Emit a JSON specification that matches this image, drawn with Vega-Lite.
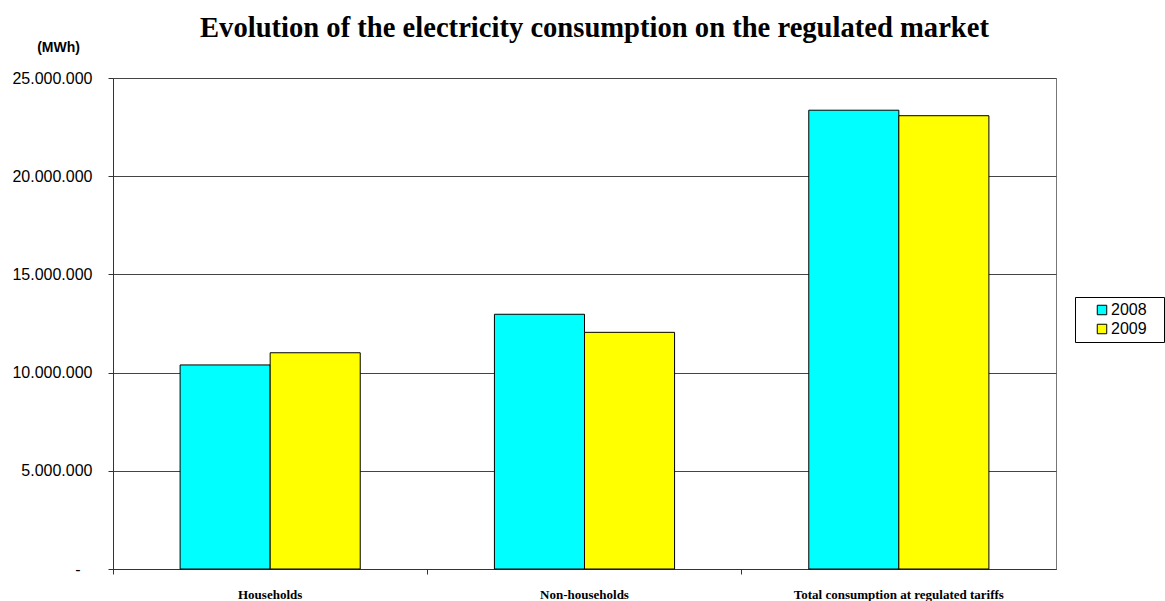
{
  "$schema": "https://vega.github.io/schema/vega-lite/v6.json",
  "autosize": {"type": "none"},
  "width": 943,
  "height": 491,
  "padding": {"left": 113, "top": 78, "right": 109, "bottom": 32},
  "background": "white",
  "title": {
    "text": "Evolution of the electricity consumption on the regulated market",
    "font": "Liberation Serif",
    "fontSize": 28.6,
    "fontWeight": "bold",
    "color": "black",
    "anchor": "middle",
    "dx": 10,
    "offset": -3
  },
  "data": {
    "values": [
      {"category": "Households", "year": "2008", "value": 10390000},
      {"category": "Households", "year": "2009", "value": 11010000},
      {"category": "Non-households", "year": "2008", "value": 12970000},
      {"category": "Non-households", "year": "2009", "value": 12050000},
      {"category": "Total consumption at regulated tariffs", "year": "2008", "value": 23360000},
      {"category": "Total consumption at regulated tariffs", "year": "2009", "value": 23080000}
    ]
  },
  "mark": {"type": "bar", "stroke": "black", "strokeWidth": 1},
  "encoding": {
    "x": {
      "field": "category",
      "type": "nominal",
      "sort": null,
      "scale": {"paddingInner": 0, "paddingOuter": 0},
      "axis": {
        "title": null,
        "labelAngle": 0,
        "labelFont": "Liberation Serif",
        "labelFontWeight": "bold",
        "labelFontSize": 13,
        "labelLimit": 0,
        "labelColor": "black",
        "labelPadding": 14,
        "bandPosition": 0,
        "tickSize": 5,
        "tickColor": "#333",
        "domainColor": "#333",
        "grid": false
      }
    },
    "xOffset": {
      "field": "year",
      "type": "nominal",
      "scale": {"paddingInner": 0, "paddingOuter": 0.745}
    },
    "y": {
      "field": "value",
      "type": "quantitative",
      "scale": {"domain": [0, 25000000], "nice": false},
      "axis": {
        "values": [0, 5000000, 10000000, 15000000, 20000000, 25000000],
        "format": ",d",
        "labelExpr": "datum.value == 0 ? '-\u2800' : datum.label",
        "labelFont": "Liberation Sans",
        "labelFontSize": 16,
        "labelColor": "black",
        "labelPadding": 16,
        "tickSize": 5,
        "tickColor": "#333",
        "domainColor": "#333",
        "grid": true,
        "gridColor": "#444",
        "gridWidth": 1,
        "title": "(MWh)",
        "titleAngle": 0,
        "titleFont": "Liberation Sans",
        "titleFontSize": 14,
        "titleFontWeight": "bold",
        "titleColor": "black",
        "titleAlign": "center",
        "titleBaseline": "middle",
        "titleX": -55,
        "titleY": -31
      }
    },
    "fill": {
      "field": "year",
      "type": "nominal",
      "scale": {"domain": ["2008", "2009"], "range": ["#00FFFF", "#FFFF00"]},
      "legend": {
        "title": null,
        "orient": "none",
        "legendX": 962,
        "legendY": 219,
        "strokeColor": "black",
        "padding": 5,
        "fillColor": "white",
        "symbolType": "square",
        "symbolSize": 90,
        "symbolOffset": 14,
        "symbolStrokeColor": "black",
        "symbolStrokeWidth": 1,
        "labelFont": "Liberation Sans",
        "labelFontSize": 16,
        "labelColor": "black",
        "labelOffset": 1,
        "labelExpr": "datum.label + '\u2800'",
        "rowPadding": 3
      }
    }
  },
  "config": {
    "locale": {
      "number": {"decimal": ",", "thousands": ".", "grouping": [3], "currency": ["", " €"]}
    },
    "view": {"stroke": "#777", "strokeWidth": 1}
  }
}
